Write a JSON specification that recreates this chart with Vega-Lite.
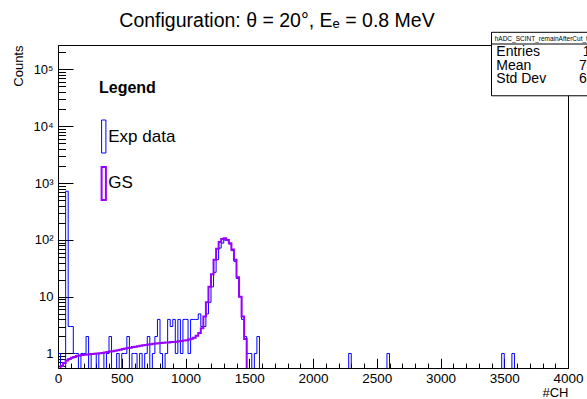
{
  "$schema": "https://vega.github.io/schema/vega-lite/v6.json",
  "width": 510,
  "height": 323,
  "autosize": {"type": "none"},
  "padding": {"left": 58, "top": 45, "right": 19, "bottom": 31},
  "background": "white",
  "title": {
    "text": "Configuration: θ = 20°, Eₑ = 0.8 MeV",
    "fontSize": 19.5, "fontWeight": "normal", "font": "Liberation Sans", "color": "#000000", "offset": 0, "dx": -36
  },
  "config": {
    "view": {"stroke": "#000000", "strokeWidth": 1},
    "axis": {
      "grid": false, "domainColor": "#000000", "tickColor": "#000000", "labelColor": "#000000",
      "titleColor": "#000000", "labelFont": "Liberation Sans", "titleFont": "Liberation Sans",
      "tickWidth": 1, "domainWidth": 1, "titleFontWeight": "normal"
    }
  },
  "resolve": {"axis": {"x": "independent", "y": "independent"}},
  "layer": [
    {
      "data": {"values": [
        {"ch":0,"Exp data":1,"GS":0.5},{"ch":20,"Exp data":0,"GS":0.6},{"ch":40,"Exp data":0,"GS":0.68},{"ch":60,"Exp data":720,"GS":0.75},
        {"ch":80,"Exp data":3,"GS":0.8},{"ch":100,"Exp data":3,"GS":0.84},{"ch":120,"Exp data":1,"GS":0.87},{"ch":140,"Exp data":1,"GS":0.9},
        {"ch":160,"Exp data":0,"GS":0.92},{"ch":180,"Exp data":1,"GS":0.94},{"ch":200,"Exp data":1,"GS":0.95},{"ch":220,"Exp data":2,"GS":0.96},
        {"ch":240,"Exp data":0,"GS":0.97},{"ch":260,"Exp data":1,"GS":0.98},{"ch":280,"Exp data":1,"GS":0.99},{"ch":300,"Exp data":0,"GS":1.0},
        {"ch":320,"Exp data":1,"GS":1.01},{"ch":340,"Exp data":1,"GS":1.02},{"ch":360,"Exp data":0,"GS":1.04},{"ch":380,"Exp data":1,"GS":1.06},
        {"ch":400,"Exp data":2,"GS":1.08},{"ch":420,"Exp data":0,"GS":1.1},{"ch":440,"Exp data":0,"GS":1.12},{"ch":460,"Exp data":1,"GS":1.14},
        {"ch":480,"Exp data":0,"GS":1.17},{"ch":500,"Exp data":1,"GS":1.2},{"ch":520,"Exp data":1,"GS":1.22},{"ch":540,"Exp data":2,"GS":1.25},
        {"ch":560,"Exp data":0,"GS":1.27},{"ch":580,"Exp data":1,"GS":1.3},{"ch":600,"Exp data":1,"GS":1.32},{"ch":620,"Exp data":0,"GS":1.35},
        {"ch":640,"Exp data":1,"GS":1.37},{"ch":660,"Exp data":0,"GS":1.4},{"ch":680,"Exp data":1,"GS":1.42},{"ch":700,"Exp data":2,"GS":1.44},
        {"ch":720,"Exp data":0,"GS":1.46},{"ch":740,"Exp data":1,"GS":1.48},{"ch":760,"Exp data":2,"GS":1.5},{"ch":780,"Exp data":4,"GS":1.52},
        {"ch":800,"Exp data":1,"GS":1.53},{"ch":820,"Exp data":0,"GS":1.55},{"ch":840,"Exp data":1,"GS":1.56},{"ch":860,"Exp data":4,"GS":1.57},
        {"ch":880,"Exp data":3,"GS":1.59},{"ch":900,"Exp data":4,"GS":1.6},{"ch":920,"Exp data":1,"GS":1.62},{"ch":940,"Exp data":4,"GS":1.64},
        {"ch":960,"Exp data":1,"GS":1.66},{"ch":980,"Exp data":4,"GS":1.69},{"ch":1000,"Exp data":4,"GS":1.72},{"ch":1020,"Exp data":1,"GS":1.76},
        {"ch":1040,"Exp data":4,"GS":1.82},{"ch":1060,"Exp data":4,"GS":1.9},{"ch":1080,"Exp data":4,"GS":2.05},{"ch":1100,"Exp data":5,"GS":2.3},
        {"ch":1120,"Exp data":3,"GS":2.8},{"ch":1140,"Exp data":3,"GS":4.5},{"ch":1160,"Exp data":5,"GS":8},{"ch":1180,"Exp data":8,"GS":15},
        {"ch":1200,"Exp data":15,"GS":25},{"ch":1220,"Exp data":27,"GS":45},{"ch":1240,"Exp data":45,"GS":70},{"ch":1260,"Exp data":72,"GS":92},
        {"ch":1280,"Exp data":88,"GS":104},{"ch":1300,"Exp data":100,"GS":107},{"ch":1320,"Exp data":98,"GS":100},{"ch":1340,"Exp data":85,"GS":88},
        {"ch":1360,"Exp data":65,"GS":68},{"ch":1380,"Exp data":42,"GS":45},{"ch":1400,"Exp data":21,"GS":22},{"ch":1420,"Exp data":10,"GS":10},
        {"ch":1440,"Exp data":4,"GS":4.5},{"ch":1460,"Exp data":2,"GS":1.8},{"ch":1480,"Exp data":1,"GS":0},{"ch":1500,"Exp data":1,"GS":0},
        {"ch":1520,"Exp data":0,"GS":0},{"ch":1540,"Exp data":1,"GS":0},{"ch":1560,"Exp data":2,"GS":0},{"ch":1580,"Exp data":0,"GS":0},
        {"ch":1600,"Exp data":0,"GS":0},{"ch":1620,"Exp data":0,"GS":0},{"ch":1640,"Exp data":0,"GS":0},{"ch":1660,"Exp data":0,"GS":0},
        {"ch":1680,"Exp data":0,"GS":0},{"ch":1700,"Exp data":0,"GS":0},{"ch":1720,"Exp data":0,"GS":0},{"ch":1740,"Exp data":0,"GS":0},
        {"ch":1760,"Exp data":0,"GS":0},{"ch":1780,"Exp data":0,"GS":0},{"ch":1800,"Exp data":0,"GS":0},{"ch":1820,"Exp data":0,"GS":0},
        {"ch":1840,"Exp data":0,"GS":0},{"ch":1860,"Exp data":0,"GS":0},{"ch":1880,"Exp data":0,"GS":0},{"ch":1900,"Exp data":0,"GS":0},
        {"ch":1920,"Exp data":0,"GS":0},{"ch":1940,"Exp data":0,"GS":0},{"ch":1960,"Exp data":0,"GS":0},{"ch":1980,"Exp data":0,"GS":0},
        {"ch":2000,"Exp data":0,"GS":0},{"ch":2020,"Exp data":0,"GS":0},{"ch":2040,"Exp data":0,"GS":0},{"ch":2060,"Exp data":0,"GS":0},
        {"ch":2080,"Exp data":0,"GS":0},{"ch":2100,"Exp data":0,"GS":0},{"ch":2120,"Exp data":0,"GS":0},{"ch":2140,"Exp data":0,"GS":0},
        {"ch":2160,"Exp data":0,"GS":0},{"ch":2180,"Exp data":0,"GS":0},{"ch":2200,"Exp data":0,"GS":0},{"ch":2220,"Exp data":0,"GS":0},
        {"ch":2240,"Exp data":0,"GS":0},{"ch":2260,"Exp data":0,"GS":0},{"ch":2280,"Exp data":1,"GS":0},{"ch":2300,"Exp data":0,"GS":0},
        {"ch":2320,"Exp data":0,"GS":0},{"ch":2340,"Exp data":0,"GS":0},{"ch":2360,"Exp data":0,"GS":0},{"ch":2380,"Exp data":0,"GS":0},
        {"ch":2400,"Exp data":0,"GS":0},{"ch":2420,"Exp data":0,"GS":0},{"ch":2440,"Exp data":0,"GS":0},{"ch":2460,"Exp data":0,"GS":0},
        {"ch":2480,"Exp data":0,"GS":0},{"ch":2500,"Exp data":0,"GS":0},{"ch":2520,"Exp data":0,"GS":0},{"ch":2540,"Exp data":0,"GS":0},
        {"ch":2560,"Exp data":0,"GS":0},{"ch":2580,"Exp data":1,"GS":0},{"ch":2600,"Exp data":0,"GS":0},{"ch":2620,"Exp data":0,"GS":0},
        {"ch":2640,"Exp data":0,"GS":0},{"ch":2660,"Exp data":0,"GS":0},{"ch":2680,"Exp data":0,"GS":0},{"ch":2700,"Exp data":0,"GS":0},
        {"ch":2720,"Exp data":0,"GS":0},{"ch":2740,"Exp data":0,"GS":0},{"ch":2760,"Exp data":0,"GS":0},{"ch":2780,"Exp data":0,"GS":0},
        {"ch":2800,"Exp data":0,"GS":0},{"ch":2820,"Exp data":0,"GS":0},{"ch":2840,"Exp data":0,"GS":0},{"ch":2860,"Exp data":0,"GS":0},
        {"ch":2880,"Exp data":0,"GS":0},{"ch":2900,"Exp data":0,"GS":0},{"ch":2920,"Exp data":0,"GS":0},{"ch":2940,"Exp data":0,"GS":0},
        {"ch":2960,"Exp data":0,"GS":0},{"ch":2980,"Exp data":0,"GS":0},{"ch":3000,"Exp data":0,"GS":0},{"ch":3020,"Exp data":0,"GS":0},
        {"ch":3040,"Exp data":0,"GS":0},{"ch":3060,"Exp data":0,"GS":0},{"ch":3080,"Exp data":0,"GS":0},{"ch":3100,"Exp data":0,"GS":0},
        {"ch":3120,"Exp data":0,"GS":0},{"ch":3140,"Exp data":0,"GS":0},{"ch":3160,"Exp data":0,"GS":0},{"ch":3180,"Exp data":0,"GS":0},
        {"ch":3200,"Exp data":0,"GS":0},{"ch":3220,"Exp data":0,"GS":0},{"ch":3240,"Exp data":0,"GS":0},{"ch":3260,"Exp data":0,"GS":0},
        {"ch":3280,"Exp data":0,"GS":0},{"ch":3300,"Exp data":0,"GS":0},{"ch":3320,"Exp data":0,"GS":0},{"ch":3340,"Exp data":0,"GS":0},
        {"ch":3360,"Exp data":0,"GS":0},{"ch":3380,"Exp data":0,"GS":0},{"ch":3400,"Exp data":0,"GS":0},{"ch":3420,"Exp data":0,"GS":0},
        {"ch":3440,"Exp data":0,"GS":0},{"ch":3460,"Exp data":0,"GS":0},{"ch":3480,"Exp data":1,"GS":0},{"ch":3500,"Exp data":0,"GS":0},
        {"ch":3520,"Exp data":0,"GS":0},{"ch":3540,"Exp data":0,"GS":0},{"ch":3560,"Exp data":1,"GS":0},{"ch":3580,"Exp data":0,"GS":0},
        {"ch":3600,"Exp data":0,"GS":0},{"ch":3620,"Exp data":0,"GS":0},{"ch":3640,"Exp data":0,"GS":0},{"ch":3660,"Exp data":0,"GS":0},
        {"ch":3680,"Exp data":0,"GS":0},{"ch":3700,"Exp data":0,"GS":0},{"ch":3720,"Exp data":0,"GS":0},{"ch":3740,"Exp data":0,"GS":0},
        {"ch":3760,"Exp data":0,"GS":0},{"ch":3780,"Exp data":0,"GS":0},{"ch":3800,"Exp data":0,"GS":0},{"ch":3820,"Exp data":0,"GS":0},
        {"ch":3840,"Exp data":0,"GS":0},{"ch":3860,"Exp data":0,"GS":0},{"ch":3880,"Exp data":0,"GS":0},{"ch":3900,"Exp data":0,"GS":0},
        {"ch":3920,"Exp data":0,"GS":0},{"ch":3940,"Exp data":0,"GS":0},{"ch":3960,"Exp data":0,"GS":0},{"ch":3980,"Exp data":0,"GS":0},
        {"ch":4000,"Exp data":0,"GS":0}
      ]},
      "transform": [{"fold": ["Exp data", "GS"], "as": ["series", "counts"]}],
      "mark": {"type": "line", "interpolate": "step-after", "clip": true},
      "encoding": {
        "x": {
          "field": "ch", "type": "quantitative",
          "scale": {"domain": [0, 4000], "nice": false, "zero": false},
          "axis": {
            "orient": "bottom",
            "values": [0,500,1000,1500,2000,2500,3000,3500,4000],
            "format": "d",
            "tickSize": -9.7,
            "labelFontSize": 13.5, "labelPadding": 12.7, "labelFlush": false,
            "title": "#CH", "titleFontSize": 13, "titleAnchor": "end", "titleAlign": "right",
            "titleX": 510, "titleY": 28, "titleBaseline": "alphabetic"
          }
        },
        "y": {
          "field": "counts", "type": "quantitative",
          "scale": {"type": "symlog", "constant": 0.01, "domain": [0.551, 268000], "nice": false, "zero": false},
          "axis": {
            "orient": "left",
            "values": [1,10,100,1000,10000,100000],
            "labelExpr": "datum.value == 1 ? '1' : datum.value == 10 ? '10' : datum.value == 100 ? '10²' : datum.value == 1000 ? '10³' : datum.value == 10000 ? '10⁴' : '10⁵'",
            "tickSize": -15,
            "labelFontSize": 13, "labelPadding": 20,
            "title": "Counts", "titleFontSize": 13, "titleAngle": -90, "titleAnchor": "end",
            "titleAlign": "right", "titleBaseline": "middle", "titleX": -40, "titleY": 0
          }
        },
        "color": {
          "field": "series", "type": "nominal",
          "scale": {"domain": ["Exp data", "GS"], "range": ["#0000ff", "#9900ff"]},
          "legend": {
            "orient": "none", "legendX": 41, "legendY": 35, "padding": 0,
            "title": "Legend", "titleFontSize": 16, "titleFontWeight": "bold", "titleFont": "Liberation Sans",
            "titleColor": "#000000", "titlePadding": 23.5,
            "labelFontSize": 17, "labelFont": "Liberation Sans", "labelColor": "#000000",
            "symbolType": "M-0.13,-1L0.13,-1L0.13,1L-0.13,1Z", "symbolSize": 1089, "symbolStrokeWidth": 1.5,
            "symbolFillColor": "transparent", "rowPadding": 7.4, "symbolOffset": -12.75, "labelOffset": -13
          }
        },
        "strokeWidth": {
          "field": "series", "type": "ordinal",
          "scale": {"domain": ["Exp data", "GS"], "range": [1, 2]}, "legend": null
        }
      }
    },
    {
      "data": {"values": [{}]},
      "mark": {"type": "rect", "fill": "white", "stroke": "#000000", "strokeWidth": 1, "clip": false},
      "encoding": {
        "x": {"datum": 3400, "type": "quantitative", "scale": {"domain": [0, 4000], "nice": false, "zero": false},
          "axis": {"orient": "bottom", "values": [100,200,300,400,600,700,800,900,1100,1200,1300,1400,1600,1700,1800,1900,2100,2200,2300,2400,2600,2700,2800,2900,3100,3200,3300,3400,3600,3700,3800,3900],
            "tickSize": -4.9, "labels": false, "domain": false, "title": null}},
        "x2": {"datum": 4400},
        "y": {"datum": 448000, "type": "quantitative", "scale": {"type": "symlog", "constant": 0.01, "domain": [0.551, 268000], "nice": false, "zero": false},
          "axis": {"orient": "left", "values": [0.6,0.7,0.8,0.9,2,3,4,5,6,7,8,9,20,30,40,50,60,70,80,90,200,300,400,500,600,700,800,900,2000,3000,4000,5000,6000,7000,8000,9000,20000,30000,40000,50000,60000,70000,80000,90000,200000],
            "tickSize": -7.5, "labels": false, "domain": false, "title": null}},
        "y2": {"datum": 34300}
      }
    },
    {
      "data": {"values": [{}]},
      "mark": {"type": "rule", "color": "#000000", "strokeWidth": 1, "clip": false},
      "encoding": {
        "x": {"datum": 3400, "type": "quantitative", "scale": {"domain": [0, 4000], "nice": false, "zero": false}, "axis": null},
        "x2": {"datum": 4400},
        "y": {"datum": 279000, "type": "quantitative", "scale": {"type": "symlog", "constant": 0.01, "domain": [0.551, 268000], "nice": false, "zero": false}, "axis": null}
      }
    },
    {
      "data": {"values": [{"name": "hADC_SCINT_remainAfterCut_th20"}]},
      "mark": {"type": "text", "align": "left", "baseline": "middle", "fontSize": 6.5, "font": "Liberation Sans", "color": "#000000", "clip": false},
      "encoding": {
        "x": {"datum": 3425, "type": "quantitative", "scale": {"domain": [0, 4000], "nice": false, "zero": false}, "axis": null},
        "y": {"datum": 341000, "type": "quantitative", "scale": {"type": "symlog", "constant": 0.01, "domain": [0.551, 268000], "nice": false, "zero": false}, "axis": null},
        "text": {"field": "name"}
      }
    },
    {
      "data": {"values": [{"stat": "Entries", "value": "1480"}, {"stat": "Mean", "value": "745.2"}, {"stat": "Std Dev", "value": "621.8"}]},
      "mark": {"type": "text", "align": "left", "baseline": "middle", "fontSize": 14, "font": "Liberation Sans", "color": "#000000", "clip": false},
      "encoding": {
        "x": {"datum": 3438, "type": "quantitative", "scale": {"domain": [0, 4000], "nice": false, "zero": false}, "axis": null},
        "y": {"datum": 202000, "type": "quantitative", "scale": {"type": "symlog", "constant": 0.01, "domain": [0.551, 268000], "nice": false, "zero": false}, "axis": null},
        "yOffset": {"field": "stat", "type": "nominal", "scale": {"type": "point", "domain": ["Entries", "Mean", "Std Dev"], "range": [0, 27.4], "padding": 0}},
        "text": {"field": "stat"}
      }
    },
    {
      "data": {"values": [{"stat": "Entries", "value": "1480"}, {"stat": "Mean", "value": "745.2"}, {"stat": "Std Dev", "value": "621.8"}]},
      "mark": {"type": "text", "align": "right", "baseline": "middle", "fontSize": 14, "font": "Liberation Sans", "color": "#000000", "clip": false},
      "encoding": {
        "x": {"datum": 4361, "type": "quantitative", "scale": {"domain": [0, 4000], "nice": false, "zero": false}, "axis": null},
        "y": {"datum": 202000, "type": "quantitative", "scale": {"type": "symlog", "constant": 0.01, "domain": [0.551, 268000], "nice": false, "zero": false}, "axis": null},
        "yOffset": {"field": "stat", "type": "nominal", "scale": {"type": "point", "domain": ["Entries", "Mean", "Std Dev"], "range": [0, 27.4], "padding": 0}},
        "text": {"field": "value"}
      }
    }
  ]
}
